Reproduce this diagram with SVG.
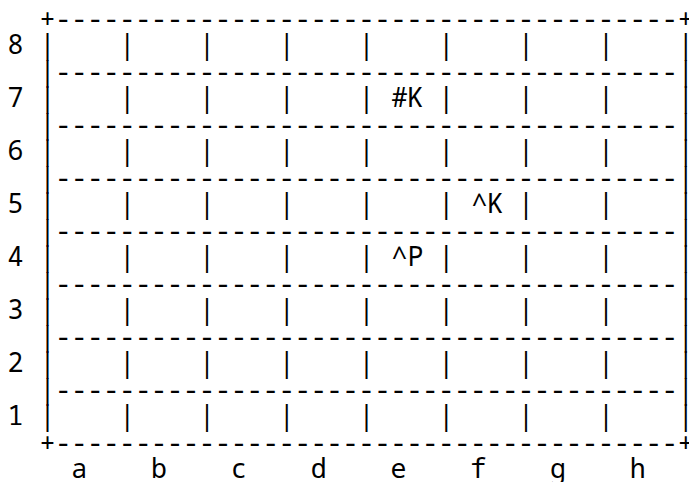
<svg xmlns="http://www.w3.org/2000/svg" width="689" height="482" viewBox="0 0 689 482">
<style>
text{font-family:"Noto Sans Mono","DejaVu Sans Mono",monospace;font-size:26.6px;fill:#000;white-space:pre}
</style>
<rect width="689" height="482" fill="#fff"/>
<g id="board" xml:space="preserve">
<text x="7.5" y="27.5">  +---------------------------------------+</text>
<text x="7.5" y="54">  |    |    |    |    |    |    |    |    |</text>
<text x="7.5" y="80.5">  |---------------------------------------|</text>
<text x="7.5" y="107">  |    |    |    |    |    |    |    |    |</text>
<text x="7.5" y="133.5">  |---------------------------------------|</text>
<text x="7.5" y="160">  |    |    |    |    |    |    |    |    |</text>
<text x="7.5" y="186.5">  |---------------------------------------|</text>
<text x="7.5" y="213">  |    |    |    |    |    |    |    |    |</text>
<text x="7.5" y="239.5">  |---------------------------------------|</text>
<text x="7.5" y="266">  |    |    |    |    |    |    |    |    |</text>
<text x="7.5" y="292.5">  |---------------------------------------|</text>
<text x="7.5" y="319">  |    |    |    |    |    |    |    |    |</text>
<text x="7.5" y="345.5">  |---------------------------------------|</text>
<text x="7.5" y="372">  |    |    |    |    |    |    |    |    |</text>
<text x="7.5" y="398.5">  |---------------------------------------|</text>
<text x="7.5" y="425">  |    |    |    |    |    |    |    |    |</text>
<text x="7.5" y="451.5">  +---------------------------------------+</text>
</g>
<g id="ranks">
<text x="7.5" y="54">8</text>
<text x="7.5" y="107">7</text>
<text x="7.5" y="160">6</text>
<text x="7.5" y="213">5</text>
<text x="7.5" y="266">4</text>
<text x="7.5" y="319">3</text>
<text x="7.5" y="372">2</text>
<text x="7.5" y="425">1</text>
</g>
<g id="files" xml:space="preserve">
<text x="7.5" y="478">    a    b    c    d    e    f    g    h</text>
</g>
<g id="pieces">
<g id="piece-e7"><text x="391.5" y="107">#K</text></g>
<g id="piece-f5"><text x="471.5" y="213">^K</text></g>
<g id="piece-e4"><text x="391.5" y="266">^P</text></g>
</g>
</svg>
